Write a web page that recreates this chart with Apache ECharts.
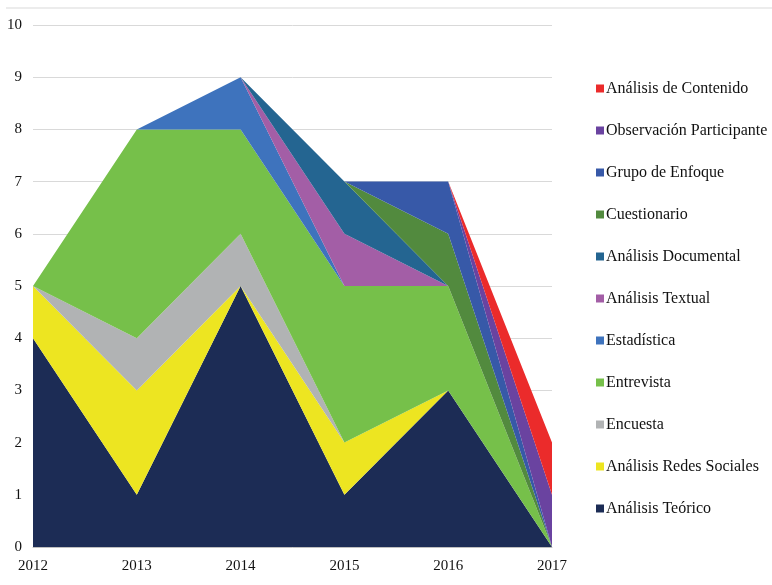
<!DOCTYPE html>
<html><head><meta charset="utf-8">
<script src="https://cdn.jsdelivr.net/npm/echarts@6/dist/echarts.min.js"></script>
<style>html,body{margin:0;padding:0;background:#fff}#c{width:772px;height:585px}</style>
</head><body><div id="c"></div>
<script>
const categories = ['2012','2013','2014','2015','2016','2017'];
const seriesNames = ['Análisis Teórico','Análisis Redes Sociales','Encuesta','Entrevista','Estadística','Análisis Textual','Análisis Documental','Cuestionario','Grupo de Enfoque','Observación Participante','Análisis de Contenido'];
const analisisTeorico = [4,1,5,1,3,0];
const analisisRedes = [1,2,0,1,0,0];
const encuesta = [0,1,1,0,0,0];
const entrevista = [0,4,2,3,2,0];
const estadistica = [0,0,1,0,0,0];
const analisisTextual = [0,0,0,1,0,0];
const analisisDocumental = [0,0,0,1,0,0];
const cuestionario = [0,0,0,0,1,0];
const grupoEnfoque = [0,0,0,0,1,0];
const observacion = [0,0,0,0,0,1];
const contenido = [0,0,0,0,0,1];
const yTicks = [0,1,2,3,4,5,6,7,8,9,10];
const values = [analisisTeorico,analisisRedes,encuesta,entrevista,estadistica,analisisTextual,analisisDocumental,cuestionario,grupoEnfoque,observacion,contenido];
const colors = ['#1c2c55','#ede521','#b1b3b4','#76c04a','#3e73bd','#a35ea6','#246591','#528a3e','#3759a8','#6a43a0','#eb2b2b'];
const font = 'Liberation Serif, Times New Roman, serif';
const chart = echarts.init(document.getElementById('c'), null, {renderer:'canvas'});
chart.setOption({
  animation:false,
  color:colors,
  grid:{left:33,right:220,top:25,bottom:38},
  graphic:[{type:'line',shape:{x1:6,y1:8,x2:772,y2:8},style:{stroke:'#d9d9d9',lineWidth:1}}],
  legend:{
    orient:'vertical',left:591,top:75,itemWidth:8,itemHeight:8,itemGap:25,
    data:seriesNames.slice().reverse(),
    icon:'rect',
    textStyle:{fontFamily:font,fontSize:16,color:'#111',lineHeight:17,padding:[0,0,0,-3]}
  },
  xAxis:{type:'category',data:categories,boundaryGap:false,
    axisLine:{lineStyle:{color:'#bfbfbf'}},axisTick:{show:false},
    axisLabel:{fontFamily:font,fontSize:15,color:'#111',margin:12}},
  yAxis:{type:'value',min:yTicks[0],max:yTicks[yTicks.length-1],interval:1,
    axisLine:{show:false},axisTick:{show:false},
    splitLine:{lineStyle:{color:'#d9d9d9'}},
    axisLabel:{fontFamily:font,fontSize:15,color:'#111',margin:11}},
  series:seriesNames.map((n,i)=>({
    name:n,type:'line',stack:'total',data:values[i],
    showSymbol:false,symbol:'none',
    lineStyle:{width:0},
    areaStyle:{color:colors[i],opacity:1}
  }))
});
</script></body></html>
